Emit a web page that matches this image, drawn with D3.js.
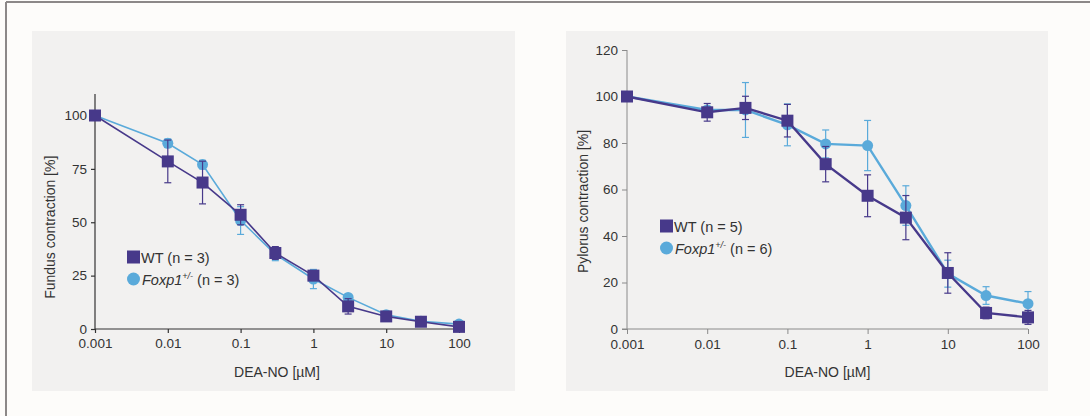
<!DOCTYPE html>
<html>
<head>
<meta charset="utf-8">
<script src="https://cdn.jsdelivr.net/npm/d3@7"></script>
<style>
  body { margin: 0; background: #fdfcfa; }
  svg { display: block; font-family: "Liberation Sans", Arial, sans-serif; }
</style>
</head>
<body>
<svg id="main-svg" width="1090" height="416"></svg>
<script>
// doses in µM
const doses = [0.001, 0.01, 0.03, 0.1, 0.3, 1, 3, 10, 30, 100];
const xTicks = [0.001, 0.01, 0.1, 1, 10, 100];
const xTickLabels = ["0.001", "0.01", "0.1", "1", "10", "100"];

// fundus contraction [%]
const fundusWT = [100, 78.5, 68.6, 53.5, 35.6, 25, 10.6, 5.9, 3.4, 1];
const fundusWTErr = [0, 10, 10, 4.7, 3, 2, 3.6, 1, 1, 1];
const fundusFox = [100, 87, 77, 50.8, 35, 23.4, 14.8, 6.7, 3.6, 2.3];
const fundusFoxErr = [0, 2, 2, 6.5, 3, 4.5, 1, 1, 1, 1];
const fundusYTicks = [0, 25, 50, 75, 100];

// pylorus contraction [%]
const pylorusWT = [100, 93.2, 95.1, 89.6, 70.9, 57.3, 47.9, 24.1, 6.9, 5];
const pylorusWTErr = [0, 3.8, 5, 7, 7.6, 9, 9.5, 8.7, 2.5, 3];
const pylorusFox = [100, 94.2, 94.2, 87.8, 79.6, 78.9, 53.1, 23.8, 14.4, 10.9];
const pylorusFoxErr = [0, 1.5, 11.8, 9, 6, 10.8, 8.5, 5.8, 3.8, 5.2];
const pylorusYTicks = [0, 20, 40, 60, 80, 100, 120];

const colorWT = "#47398a";
const colorFox = "#5aaada";

const svg = d3.select("#main-svg");

// outer frame (left and top edges only)
svg.append("line").attr("x1", 6).attr("y1", 2).attr("x2", 1090).attr("y2", 2)
    .attr("stroke", "#8c8888").attr("stroke-width", 2);
svg.append("line").attr("x1", 6).attr("y1", 2).attr("x2", 6).attr("y2", 416)
    .attr("stroke", "#8c8888").attr("stroke-width", 2);

function drawPanel(cfg) {
    const g = svg.append("g");

    g.append("rect")
        .attr("x", cfg.bg[0]).attr("y", cfg.bg[1])
        .attr("width", cfg.bg[2]).attr("height", cfg.bg[3])
        .attr("fill", "#f2f1f0");

    const x = d3.scaleLog().domain([0.001, 100]).range([cfg.x0, cfg.x1]);
    const y = d3.scaleLinear().domain([0, cfg.yMax]).range([cfg.y0, cfg.y1]);

    // y axis
    const yAxis = g.append("g")
        .attr("transform", `translate(${cfg.x0},0)`)
        .call(d3.axisLeft(y).tickValues(cfg.yTicks).tickSize(cfg.tick).tickPadding(4));
    yAxis.select(".domain").remove();
    g.append("line")
        .attr("x1", cfg.x0).attr("x2", cfg.x0)
        .attr("y1", cfg.yTop).attr("y2", cfg.y0)
        .attr("stroke", cfg.axisColor).attr("stroke-width", cfg.axisWidth);

    // x axis
    const xAxis = g.append("g")
        .attr("transform", `translate(0,${cfg.y0})`)
        .call(d3.axisBottom(x).tickValues(xTicks)
            .tickFormat((d, i) => xTickLabels[i]).tickSize(cfg.tick).tickPadding(5));
    xAxis.select(".domain").remove();
    g.append("line")
        .attr("x1", cfg.x0 - (cfg.zeroTick ? cfg.tick : 0)).attr("x2", cfg.x1)
        .attr("y1", cfg.y0).attr("y2", cfg.y0)
        .attr("stroke", cfg.axisColor).attr("stroke-width", cfg.axisWidth);

    [yAxis, xAxis].forEach(a => {
        a.selectAll(".tick line").attr("stroke", cfg.axisColor).attr("stroke-width", cfg.axisWidth);
        a.selectAll(".tick text").attr("fill", "#333").attr("font-size", "13.5px")
            .attr("font-family", "Liberation Sans, Arial, sans-serif");
    });

    // axis titles
    g.append("text")
        .attr("transform", `translate(${cfg.yTitleX},${(cfg.y0 + cfg.y1) / 2 + cfg.yTitleShift}) rotate(-90)`)
        .attr("text-anchor", "middle")
        .attr("font-size", "14px").attr("fill", "#333")
        .text(cfg.yTitle);
    g.append("text")
        .attr("x", (cfg.x0 + cfg.x1) / 2).attr("y", 377)
        .attr("text-anchor", "middle")
        .attr("font-size", "14px").attr("fill", "#333")
        .text("DEA-NO [µM]");

    const series = [
        { vals: cfg.fox, err: cfg.foxErr, color: colorFox, shape: "circle" },
        { vals: cfg.wt, err: cfg.wtErr, color: colorWT, shape: "square" }
    ];

    const line = d3.line().x(d => x(d.dose)).y(d => y(d.v));

    series.forEach(s => {
        const pts = doses.map((dose, i) => ({ dose, v: s.vals[i], e: s.err[i] }));

        // error bars
        const eb = g.append("g").attr("stroke", s.color).attr("stroke-width", 1.2);
        pts.filter(d => d.e > 0).forEach(d => {
            const cx = x(d.dose);
            eb.append("line").attr("x1", cx).attr("x2", cx)
                .attr("y1", y(d.v - d.e)).attr("y2", y(d.v + d.e));
            [d.v - d.e, d.v + d.e].forEach(v => {
                eb.append("line").attr("x1", cx - 3.5).attr("x2", cx + 3.5)
                    .attr("y1", y(v)).attr("y2", y(v));
            });
        });

        g.append("path")
            .datum(pts)
            .attr("d", line)
            .attr("fill", "none")
            .attr("stroke", s.color)
            .attr("stroke-width", cfg.lineWidth);

        if (s.shape === "circle") {
            g.selectAll(null).data(pts).enter().append("circle")
                .attr("cx", d => x(d.dose)).attr("cy", d => y(d.v))
                .attr("r", 5.5).attr("fill", s.color);
        } else {
            g.selectAll(null).data(pts).enter().append("rect")
                .attr("x", d => x(d.dose) - 6).attr("y", d => y(d.v) - 6)
                .attr("width", 12).attr("height", 12).attr("fill", s.color);
        }
    });

    // legend
    const lg = g.append("g").attr("transform", `translate(${cfg.legend[0]},${cfg.legend[1]})`);
    lg.append("rect").attr("x", 0).attr("y", -6.5).attr("width", 13).attr("height", 13).attr("fill", colorWT);
    lg.append("text").attr("x", 14).attr("y", 5.5).attr("font-size", "14.5px").attr("fill", "#333")
        .text(`WT (n = ${cfg.nWT})`);
    lg.append("circle").attr("cx", 6.5).attr("cy", 22).attr("r", 6.5).attr("fill", colorFox);
    const ft = lg.append("text").attr("x", 15).attr("y", 27.5).attr("font-size", "14.5px").attr("fill", "#333");
    ft.append("tspan").attr("font-style", "italic").text("Foxp1");
    ft.append("tspan").attr("font-style", "italic").attr("font-size", "9px").attr("dy", -6).text("+/-");
    ft.append("tspan").attr("dy", 6).text(` (n = ${cfg.nFox})`);
}

drawPanel({
    bg: [32, 31, 483, 360],
    x0: 95, x1: 459, y0: 329, y1: 115.5, yTop: 94, yMax: 100,
    yTicks: fundusYTicks, tick: 4, zeroTick: false,
    axisColor: "#333", axisWidth: 1.2,
    yTitle: "Fundus contraction [%]", yTitleX: 55, yTitleShift: 5,
    wt: fundusWT, wtErr: fundusWTErr, fox: fundusFox, foxErr: fundusFoxErr,
    lineWidth: 1.6, legend: [127, 257], nWT: 3, nFox: 3
});

drawPanel({
    bg: [566, 31, 482, 360],
    x0: 627, x1: 1028, y0: 329, y1: 50, yTop: 50, yMax: 120,
    yTicks: pylorusYTicks, tick: 5, zeroTick: true,
    axisColor: "#8a8a8a", axisWidth: 1,
    yTitle: "Pylorus contraction [%]", yTitleX: 588, yTitleShift: 12,
    wt: pylorusWT, wtErr: pylorusWTErr, fox: pylorusFox, foxErr: pylorusFoxErr,
    lineWidth: 2.4, legend: [660, 226], nWT: 5, nFox: 6
});
</script>
</body>
</html>
